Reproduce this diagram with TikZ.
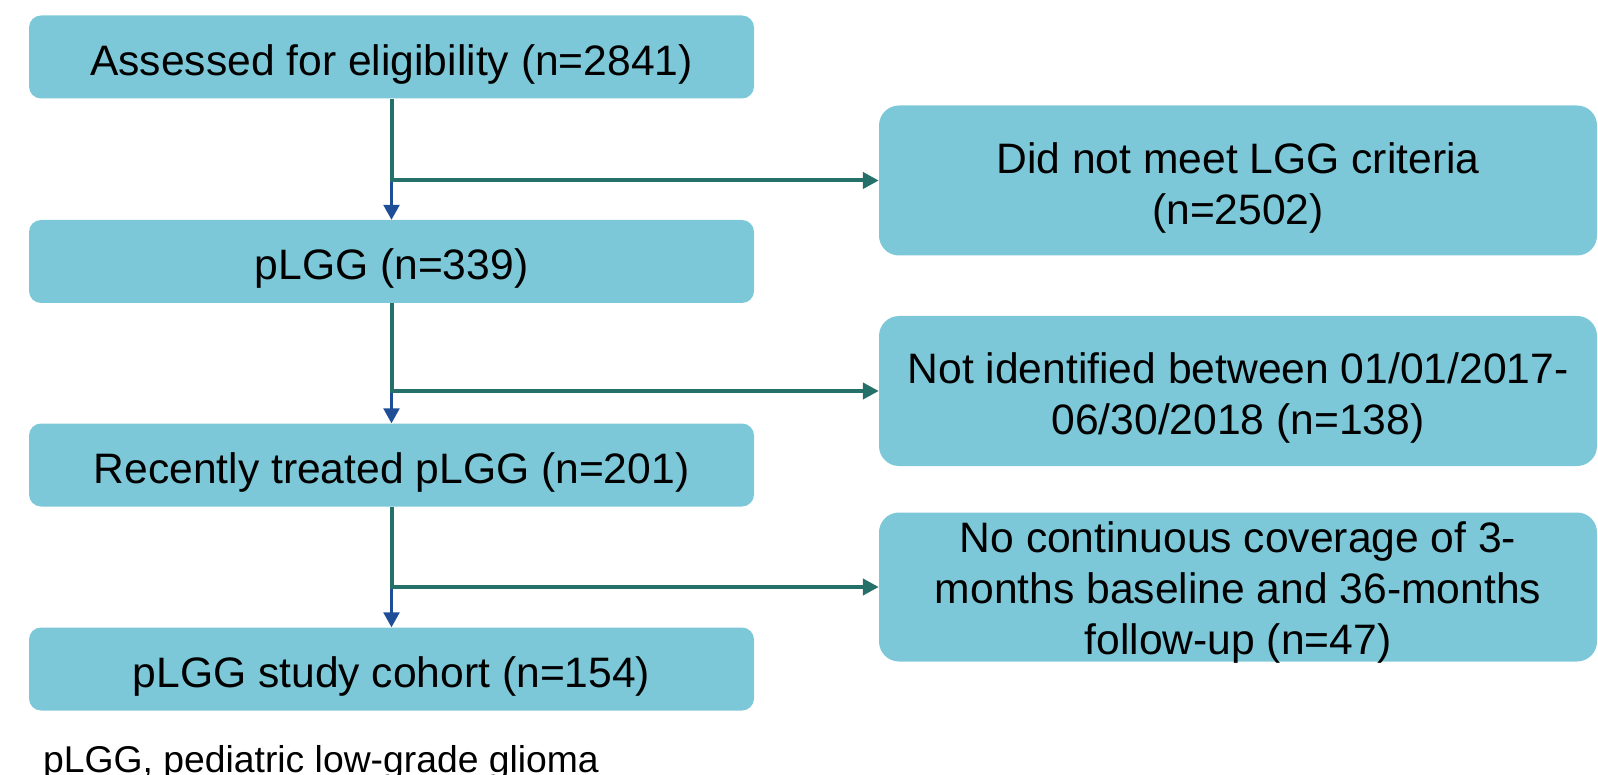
\documentclass[tikz,border=0pt]{standalone}
\usepackage{fontspec}
\setmainfont{Liberation Sans}
\usetikzlibrary{arrows.meta}
\definecolor{boxfill}{RGB}{124,200,216}
\definecolor{tealline}{RGB}{38,112,106}
\definecolor{bluearrow}{RGB}{31,78,152}
\tikzset{
  boxtext/.style={font=\fontsize{42.6}{51}\selectfont, align=center, yshift=-7pt, inner sep=0pt},
  leftbox/.style={fill=boxfill, draw=none, rounded corners=12pt, minimum width=725pt, minimum height=83pt, inner sep=0pt},
  rightbox/.style={fill=boxfill, draw=none, rounded corners=20pt, minimum width=718pt, minimum height=150pt, inner sep=0pt},
  tealconn/.style={draw=tealline, line width=4pt},
  tealarrow/.style={draw=tealline, line width=4pt, -{Triangle[length=16pt,width=16pt]}},
  bluearr/.style={draw=bluearrow, line width=2.5pt, -{Triangle[length=15pt,width=16pt]}},
  footnote/.style={font=\fontsize{37.3}{44}\selectfont, anchor=base west, inner sep=0pt}
}
\begin{document}
\begin{tikzpicture}[x=1pt,y=-1pt]
\useasboundingbox (0,0) rectangle (1598,775);
% left boxes
\node[leftbox, label={[boxtext]center:Assessed for eligibility (n=2841)}] (b1) at (391.5,57) {};
\node[leftbox, label={[boxtext]center:pLGG (n=339)}] (b2) at (391.5,261.5) {};
\node[leftbox, label={[boxtext]center:Recently treated pLGG (n=201)}] (b3) at (391.5,465) {};
\node[leftbox, label={[boxtext]center:pLGG study cohort (n=154)}] (b4) at (391.5,669) {};
% right boxes
\node[rightbox, label={[boxtext]center:Did not meet LGG criteria\\(n=2502)}] (r1) at (1238,180.5) {};
\node[rightbox, label={[boxtext]center:Not identified between 01/01/2017-\\06/30/2018 (n=138)}] (r2) at (1238,391) {};
\node[rightbox, minimum height=149pt, label={[boxtext, yshift=2pt]center:No continuous coverage of 3-\\months baseline and 36-months\\follow-up (n=47)}] (r3) at (1238,587) {};
% junctions
\coordinate (j1) at (b1.south |- r1.west);
\coordinate (j2) at (b2.south |- r2.west);
\coordinate (j3) at (b3.south |- r3.west);
% connectors
\draw[bluearr] (j1) -- (b2.north);
\draw[bluearr] (j2) -- (b3.north);
\draw[bluearr] (j3) -- (b4.north);
\draw[tealconn] (b1.south) -- (j1);
\draw[tealconn] (b2.south) -- (j2);
\draw[tealconn] (b3.south) -- (j3);
\draw[tealarrow] ([xshift=-2pt]j1) -- (r1.west);
\draw[tealarrow] ([xshift=-2pt]j2) -- (r2.west);
\draw[tealarrow] ([xshift=-2pt]j3) -- (r3.west);
% footnote
\node[footnote] (fn) at (43,772) {pLGG, pediatric low-grade glioma};
\end{tikzpicture}
\end{document}
